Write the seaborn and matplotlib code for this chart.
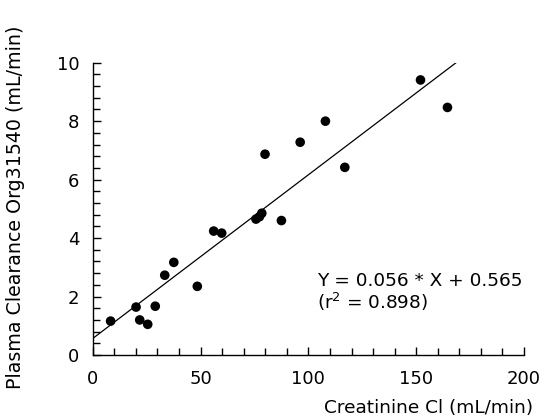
import matplotlib
matplotlib.use("Agg")
import matplotlib.pyplot as plt
from matplotlib.ticker import MultipleLocator
import seaborn as sns
import pandas as pd
import numpy as np

# Data
creatinine_cl = [8.3, 20.1, 21.8, 25.5, 29.0, 33.4, 37.6, 48.5, 56.1, 59.8,
                 75.7, 77.3, 78.4, 79.9, 87.5, 96.2, 107.9, 116.9, 152.0, 164.5]
plasma_clearance = [1.16, 1.64, 1.20, 1.05, 1.67, 2.73, 3.17, 2.35, 4.24, 4.17,
                    4.65, 4.73, 4.85, 6.87, 4.60, 7.28, 8.00, 6.42, 9.41, 8.47]
slope = 0.056
intercept = 0.565
r_squared = 0.898
fit_x_range = [0, 168.5]

eq_text = "Y = 0.056 * X + 0.565"
r2_text = "(r$^2$ = 0.898)"

sns.set_theme(style="ticks")
plt.rcParams['font.family'] = ['DejaVu Sans']
plt.rcParams['mathtext.fontset'] = 'dejavusans'
plt.rcParams['text.color'] = 'black'
plt.rcParams['axes.labelcolor'] = 'black'
plt.rcParams['xtick.color'] = 'black'
plt.rcParams['ytick.color'] = 'black'

df = pd.DataFrame({"x": creatinine_cl, "y": plasma_clearance})
fit_x = np.array(fit_x_range)
fit_df = pd.DataFrame({"x": fit_x, "y": slope * fit_x + intercept})

fig = plt.figure(figsize=(5.47, 4.18), dpi=100)
ax = fig.add_axes([0.1695, 0.1507, 0.7885, 0.6993])

sns.lineplot(data=fit_df, x="x", y="y", ax=ax, color="black", linewidth=0.9)
sns.scatterplot(data=df, x="x", y="y", ax=ax, color="black", s=48,
                edgecolor="none", zorder=3)

ax.set_xlim(0, 200)
ax.set_ylim(0, 10)
ax.xaxis.set_major_locator(MultipleLocator(50))
ax.xaxis.set_minor_locator(MultipleLocator(10))
ax.yaxis.set_major_locator(MultipleLocator(2))
ax.yaxis.set_minor_locator(MultipleLocator(0.4))
ax.tick_params(which="both", direction="in", color="black", width=1)
ax.tick_params(which="major", length=6, labelsize=13)
ax.tick_params(axis="x", which="major", pad=11)
ax.tick_params(axis="y", which="major", pad=9.5)
ax.tick_params(which="minor", length=5)
for s in ["top", "right"]:
    ax.spines[s].set_visible(False)
for s in ["left", "bottom"]:
    ax.spines[s].set_color("black")
    ax.spines[s].set_linewidth(1)

ax.set_xlabel("Creatinine Cl (mL/min)", fontsize=13.3)
ax.xaxis.label.set_ha("right")
ax.xaxis.label.set_va("center")
ax.xaxis.set_label_coords(1.021, -0.181)
ax.set_ylabel("Plasma Clearance Org31540 (mL/min)", fontsize=13.7)
ax.yaxis.label.set_va("center")
ax.yaxis.set_label_coords(-0.178, 0.505)

ax.text(103.9, 1.56, eq_text + "\n" + r2_text, fontsize=13.3,
        va="baseline", ha="left", linespacing=1.05)

fig.savefig("out.png", dpi=100)
